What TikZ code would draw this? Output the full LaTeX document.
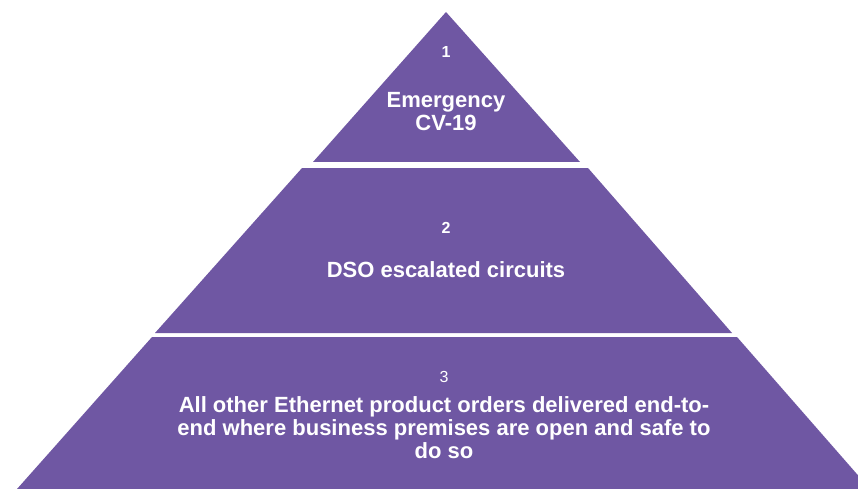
\documentclass[tikz,border=0pt]{standalone}
\usepackage{fontspec}
\setmainfont{Liberation Sans}
\definecolor{pyr}{RGB}{111,87,163}
\begin{document}
\begin{tikzpicture}[x=1pt, y=-1pt,
  tiertext/.style={text=white, font=\bfseries\fontsize{22}{23}\selectfont, align=center, inner sep=0pt},
  tiernum/.style={text=white, font=\bfseries\fontsize{16}{16}\selectfont, inner sep=0pt}]
\useasboundingbox (0,0) rectangle (858,489);
\clip (0,0) rectangle (858,489);
% the three tiers, top to bottom
\fill[pyr] (446,12) -- (580,162) -- (313,162) -- cycle;
\fill[pyr] (302,168) -- (588,168) -- (732,333) -- (155,333) -- cycle;
\fill[pyr] (152,337) -- (737,337) -- (870,489) -- (17,489) -- cycle;
% edit here for the texts
\node[tiernum] (num1) at (446,52) {1};
\node[tiertext] (txt1) at (446,112) {Emergency\\CV-19};
\node[tiernum] (num2) at (446,228) {2};
\node[tiertext] (txt2) at (446,270) {DSO escalated circuits};
\node[tiernum, font=\fontsize{16}{16}\selectfont] (num3) at (444,377) {3};
\node[tiertext] (txt3) at (444,428) {All other Ethernet product orders delivered end-to-\\end where business premises are open and safe to\\do so};
\end{tikzpicture}
\end{document}
